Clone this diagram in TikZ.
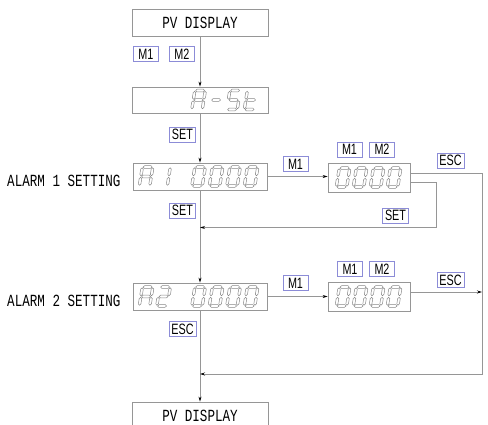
\documentclass[tikz,border=0pt]{standalone}
\usepackage{fontspec}
\newfontfamily\cadfont[FakeStretch=0.74]{Liberation Mono}
\newfontfamily\keyfont[FakeStretch=0.72]{Liberation Sans}
\usetikzlibrary{arrows.meta}
\definecolor{linegray}{RGB}{150,150,150}
\definecolor{keyblue}{RGB}{140,140,215}
\definecolor{seggray}{RGB}{135,135,135}

% seven segment outline glyphs
\newcommand{\segW}{10.5}
\newcommand{\segH}{19}
\newcommand{\segh}{1.3}
\newcommand{\segg}{0.8}
\newcommand{\segk}{0.16}
\newcommand{\hseg}[3]{\draw[segline] ({#1},{#3}) -- ({#1+\segh},{#3-\segh}) -- ({#2-\segh},{#3-\segh}) -- ({#2},{#3}) -- ({#2-\segh},{#3+\segh}) -- ({#1+\segh},{#3+\segh}) -- cycle;}
\newcommand{\vseg}[3]{\draw[segline] ({#1},{#2}) -- ({#1+\segh},{#2+\segh}) -- ({#1+\segh},{#3-\segh}) -- ({#1},{#3}) -- ({#1-\segh},{#3-\segh}) -- ({#1-\segh},{#2+\segh}) -- cycle;}
\newcommand{\sga}{\hseg{\segg}{\segW-\segg}{0}}
\newcommand{\sgb}{\vseg{\segW}{\segg}{\segH/2-\segg}}
\newcommand{\sgc}{\vseg{\segW}{\segH/2+\segg}{\segH-\segg}}
\newcommand{\sgd}{\hseg{\segg}{\segW-\segg}{\segH}}
\newcommand{\sge}{\vseg{0}{\segH/2+\segg}{\segH-\segg}}
\newcommand{\sgf}{\vseg{0}{\segg}{\segH/2-\segg}}
\newcommand{\sgg}{\hseg{\segg}{\segW-\segg}{\segH/2}}
\newcommand{\glyph}[3]{%
  \begin{scope}[shift={({#1+\segh+\segk*\segH},{#2-\segH/2})}, xslant=\segk]
    \foreach \s in {#3} {\csname sg\s\endcsname}
  \end{scope}}

\begin{document}
\begin{tikzpicture}[
  x=1pt, y=-1pt,
  disp/.style={draw=linegray, line width=0.8pt, inner sep=0pt},
  key/.style={draw=keyblue, line width=0.7pt, font=\keyfont\fontsize{15}{15}\selectfont,
              inner xsep=2.5pt, inner ysep=0pt, minimum height=15pt, minimum width=25pt},
  cadtext/.style={font=\cadfont\fontsize{17}{17}\selectfont},
  segline/.style={draw=seggray, line width=0.5pt, line join=miter},
  flow/.style={draw=linegray, line width=0.8pt, -{Stealth[length=5pt,width=3pt,color=black]}}
]
\useasboundingbox (0,0) rectangle (488,424);

% display windows
\node[disp, cadtext, minimum width=136pt, minimum height=27pt] (pvtop) at (200,22.5) {PV DISPLAY};
\node[disp, minimum width=136pt, minimum height=26pt] (ast) at (200,100) {};
\node[disp, minimum width=134pt, minimum height=27pt] (aone) at (200,176.5) {};
\node[disp, minimum width=82pt, minimum height=29pt] (bone) at (369,177.5) {};
\node[disp, minimum width=134pt, minimum height=27pt] (atwo) at (200,296.5) {};
\node[disp, minimum width=82pt, minimum height=29pt] (btwo) at (369,296.5) {};
\node[disp, cadtext, minimum width=136pt, minimum height=28pt] (pvbot) at (200,416) {PV DISPLAY};

\node[cadtext, anchor=base east] (alarmone) at (124,186) {ALARM 1 SETTING};
\node[cadtext, anchor=base east] (alarmtwo) at (124,306) {ALARM 2 SETTING};

% A-St
\glyph{190.5}{100}{a,b,c,e,f,g}
\glyph{208}{100}{g}
\glyph{225.5}{100}{a,f,g,c,d}
\glyph{243}{100}{d,e,f,g}
% A1 0000 / A2 0000
\glyph{138}{176.5}{a,b,c,e,f,g}
\glyph{155.5}{176.5}{b,c}
\glyph{138}{296.5}{a,b,c,e,f,g}
\glyph{155.5}{296.5}{a,b,g,e,d}
\foreach \i in {3,...,6} {
  \glyph{138+17.5*\i}{176.5}{a,b,c,d,e,f}
  \glyph{138+17.5*\i}{296.5}{a,b,c,d,e,f}
}
% set values
\foreach \i in {0,...,3} {
  \glyph{335+17*\i}{177.5}{a,b,c,d,e,f}
  \glyph{335+17*\i}{296.5}{a,b,c,d,e,f}
}

% keys
\node[key] (kTopMa) at (146,54) {M1};
\node[key] (kTopMb) at (182,54) {M2};
\node[key] (kSetA) at (182.5,134.5) {SET};
\node[key] (kMrowA) at (295.5,164) {M1};
\node[key] (kBoneMa) at (349.5,149.5) {M1};
\node[key] (kBoneMb) at (382,149.5) {M2};
\node[key] (kEscA) at (450.5,160.5) {ESC};
\node[key] (kSetB) at (182.5,210.5) {SET};
\node[key] (kSetC) at (395.5,215.5) {SET};
\node[key] (kMrowB) at (295.5,283) {M1};
\node[key] (kBtwoMa) at (350,269) {M1};
\node[key] (kBtwoMb) at (382,269) {M2};
\node[key] (kEscB) at (450.5,280) {ESC};
\node[key] (kEscC) at (182.5,329) {ESC};

\coordinate (setjoin) at (200,227.5);
\coordinate (setturn) at (436,227.5);
\coordinate (escjoin) at (200,374);
\coordinate (rail) at (482,374);

% main flow
\draw[flow] (pvtop.south) -- (ast.north);
\draw[flow] (ast.south) -- (aone.north);
\draw[flow] (aone.south) -- (atwo.north);
\draw[flow] (atwo.south) -- (pvbot.north);
\draw[flow] (aone.east) -- (aone.east -| bone.west);
\draw[flow] (atwo.east) -- (atwo.east -| btwo.west);

% returns
\draw[flow] ([yshift=-4.5pt]bone.east) -| (setturn) -- (setjoin);
\draw[flow] ([yshift=4.5pt]bone.east) -| (rail) -- (escjoin);
\draw[flow] ([yshift=4.5pt]btwo.east) -- ([yshift=4.5pt]btwo.east -| rail);

\end{tikzpicture}
\end{document}
